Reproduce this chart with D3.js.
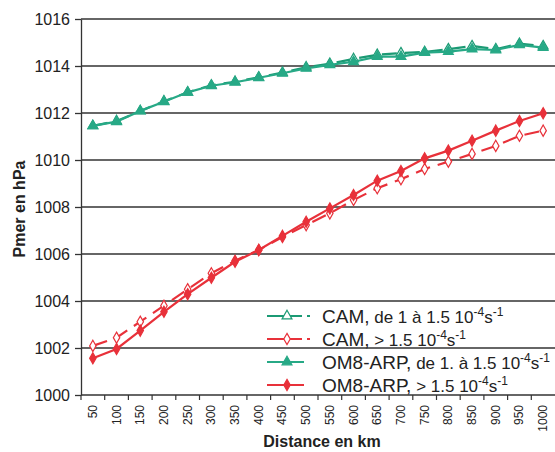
<!DOCTYPE html>
<html><head><meta charset="utf-8">
<script src="https://cdn.jsdelivr.net/npm/d3@7"></script>
<style>
html,body{margin:0;padding:0;background:#fff;}
svg{display:block;font-family:"Liberation Sans",Arial,sans-serif;}
</style></head>
<body>
<svg id="c" width="555" height="452"></svg>
<script>
const categories = ["50","100","150","200","250","300","350","400","450","500","550","600","650","700","750","800","850","900","950","1000"];
const yTicks = [1000,1002,1004,1006,1008,1010,1012,1014,1016];
const camGreen = [1011.45,1011.66,1012.08,1012.50,1012.88,1013.18,1013.33,1013.52,1013.72,1013.95,1014.10,1014.30,1014.48,1014.55,1014.60,1014.72,1014.85,1014.72,1014.95,1014.85];
const om8Green = [1011.45,1011.63,1012.09,1012.48,1012.88,1013.16,1013.31,1013.50,1013.69,1013.90,1014.05,1014.18,1014.40,1014.40,1014.57,1014.61,1014.72,1014.68,1014.90,1014.78];
const camRed = [1002.09,1002.44,1003.12,1003.80,1004.50,1005.18,1005.71,1006.17,1006.72,1007.23,1007.73,1008.30,1008.80,1009.18,1009.62,1009.93,1010.26,1010.60,1011.03,1011.25];
const om8Red = [1001.56,1001.96,1002.74,1003.54,1004.29,1004.99,1005.67,1006.17,1006.77,1007.37,1007.94,1008.51,1009.12,1009.53,1010.07,1010.40,1010.82,1011.25,1011.66,1011.99];

const series = [
  {name:"CAM", desc:"de 1 à 1.5 10", vals:camGreen, color:"#1b9a74", dashed:true, sym:d3.symbolTriangle, open:true},
  {name:"CAM", desc:"> 1.5 10", vals:camRed, color:"#e8313a", dashed:true, sym:d3.symbolDiamond, open:true},
  {name:"OM8-ARP", desc:"de 1. à 1.5 10", vals:om8Green, color:"#27a986", dashed:false, sym:d3.symbolTriangle, open:false},
  {name:"OM8-ARP", desc:"> 1.5 10", vals:om8Red, color:"#e8313a", dashed:false, sym:d3.symbolDiamond, open:false}
];

const svg = d3.select("#c");
const L = 81, R = 555, T = 19, B = 395;
const x = d3.scaleBand().domain(categories).range([L, R]).padding(0);
const y = d3.scaleLinear().domain([1000, 1016]).range([B, T]);
const bw = x.bandwidth();
const cx = (c) => x(c) + bw / 2;
const symSize = (s) => s === d3.symbolTriangle ? 42 : 36;

// gridlines
svg.append("g").selectAll("line").data(yTicks.filter(t => t > 1000)).join("line")
  .attr("x1", L).attr("x2", R).attr("y1", d => y(d)).attr("y2", d => y(d))
  .attr("stroke", "#333").attr("stroke-width", 1.3);

// y axis
const ya = svg.append("g").attr("transform", `translate(${L},0)`)
  .call(d3.axisLeft(y).tickValues(yTicks).tickSize(6).tickSizeOuter(0).tickPadding(5).tickFormat(d3.format("d")));
ya.select(".domain").attr("stroke", "#333").attr("stroke-width", 1.3);
ya.selectAll(".tick line").attr("stroke", "#333").attr("stroke-width", 1.3);
ya.selectAll("text").attr("font-size", 16).attr("fill", "#222").attr("font-family", "Liberation Sans, Arial, sans-serif");

// x axis
const xa = svg.append("g").attr("transform", `translate(0,${B})`);
xa.append("line").attr("x1", L).attr("x2", R).attr("stroke", "#333").attr("stroke-width", 1.3);
xa.selectAll("line.tk").data(categories).join("line").attr("class", "tk")
  .attr("x1", d => x(d)).attr("x2", d => x(d)).attr("y1", 0).attr("y2", 5)
  .attr("stroke", "#333").attr("stroke-width", 1.2);
xa.selectAll("text").data(categories).join("text")
  .attr("transform", d => `translate(${cx(d) + 4},10) rotate(-90)`)
  .attr("text-anchor", "end").attr("font-size", 12).attr("fill", "#222").text(d => d);

// titles
svg.append("text").attr("transform", "translate(25,209) rotate(-90)").attr("text-anchor", "middle")
  .attr("font-weight", "bold").attr("font-size", 16).attr("fill", "#222").text("Pmer en hPa");
svg.append("text").attr("x", 322).attr("y", 447).attr("text-anchor", "middle")
  .attr("font-weight", "bold").attr("font-size", 16).attr("fill", "#222").text("Distance en km");

// lines
const line = d3.line().x((d, i) => cx(categories[i])).y(d => y(d));
series.forEach(s => {
  const g = svg.append("g");
  g.append("path").attr("d", line(s.vals)).attr("fill", "none").attr("stroke", s.color)
    .attr("stroke-width", 2.2).attr("stroke-dasharray", s.dashed ? "15,8" : null);
  g.selectAll("path.m").data(s.vals).join("path").attr("class", "m")
    .attr("transform", (d, i) => `translate(${cx(categories[i])},${y(d)})`)
    .attr("d", d3.symbol().type(s.sym).size(symSize(s.sym)))
    .attr("fill", s.open ? "#fff" : s.color).attr("stroke", s.color).attr("stroke-width", 1.2);
});

// legend
const rows = [323, 346, 369, 392];
series.forEach((s, i) => {
  const yy = rows[i] - 7;
  const g = svg.append("g");
  if (s.dashed) {
    g.append("line").attr("x1", 267).attr("x2", 310).attr("y1", yy).attr("y2", yy)
      .attr("stroke", s.color).attr("stroke-width", 2.2).attr("stroke-dasharray", "35,5,3");
  } else {
    g.append("line").attr("x1", 267).attr("x2", 304).attr("y1", yy).attr("y2", yy)
      .attr("stroke", s.color).attr("stroke-width", 2.2);
  }
  g.append("path").attr("transform", `translate(287,${yy})`)
    .attr("d", d3.symbol().type(s.sym).size(symSize(s.sym)))
    .attr("fill", s.open ? "#fff" : s.color).attr("stroke", s.color).attr("stroke-width", 1.2);
  const t = g.append("text").attr("x", 322).attr("y", rows[i]).attr("fill", "#222");
  t.append("tspan").attr("font-size", 19).text(s.name + ",");
  t.append("tspan").attr("font-size", 17).text(" " + s.desc);
  t.append("tspan").attr("font-size", 12).attr("dy", -7).text("-4");
  t.append("tspan").attr("font-size", 17).attr("dy", 7).text("s");
  t.append("tspan").attr("font-size", 12).attr("dy", -7).text("-1");
});
</script>
</body></html>
